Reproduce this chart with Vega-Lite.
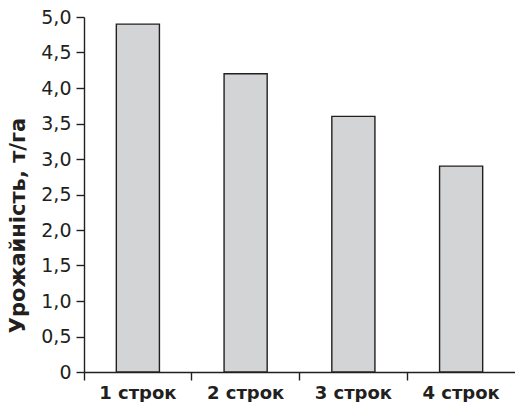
{
  "$schema": "https://vega.github.io/schema/vega-lite/v6.json",
  "autosize": {"type": "none"},
  "padding": {"left": 84, "top": 17, "right": 0, "bottom": 30},
  "width": 431,
  "height": 355,
  "background": "white",
  "config": {
    "view": {"stroke": null},
    "font": "DejaVu Sans"
  },
  "data": {
    "values": [
      {"Строк": "1 строк", "Урожайність": 4.9},
      {"Строк": "2 строк", "Урожайність": 4.2},
      {"Строк": "3 строк", "Урожайність": 3.6},
      {"Строк": "4 строк", "Урожайність": 2.9}
    ]
  },
  "mark": {"type": "bar", "width": {"band": 0.4}, "fill": "#d3d4d6", "stroke": "#231f20", "strokeWidth": 1.4},
  "encoding": {
    "x": {
      "field": "Строк", "type": "nominal", "sort": null,
      "scale": {"paddingInner": 0, "paddingOuter": 0},
      "axis": {
        "title": null, "labelAngle": 0, "bandPosition": 0,
        "labelFont": "DejaVu Sans", "labelFontWeight": "bold", "labelFontSize": 18,
        "labelColor": "#231f20", "labelPadding": 4,
        "tickSize": 8, "tickColor": "#231f20", "domainColor": "#231f20",
        "domainWidth": 1.4, "tickWidth": 1.4, "grid": false
      }
    },
    "y": {
      "field": "Урожайність", "type": "quantitative",
      "scale": {"domain": [0, 5], "nice": false},
      "axis": {
        "title": "Урожайність, т/га",
        "titleFont": "DejaVu Sans", "titleFontWeight": "bold", "titleFontSize": 21,
        "titleColor": "#231f20", "titlePadding": 12, "titleY": 208,
        "values": [0, 0.5, 1, 1.5, 2, 2.5, 3, 3.5, 4, 4.5, 5],
        "labelExpr": "datum.value == 0 ? '0' : replace(format(datum.value, '.1f'), '.', ',')",
        "labelFont": "DejaVu Sans", "labelFontSize": 19, "labelColor": "#231f20", "labelPadding": 5,
        "tickSize": 8, "tickColor": "#231f20", "domainColor": "#231f20",
        "domainWidth": 1.4, "tickWidth": 1.4, "grid": false
      }
    }
  }
}
